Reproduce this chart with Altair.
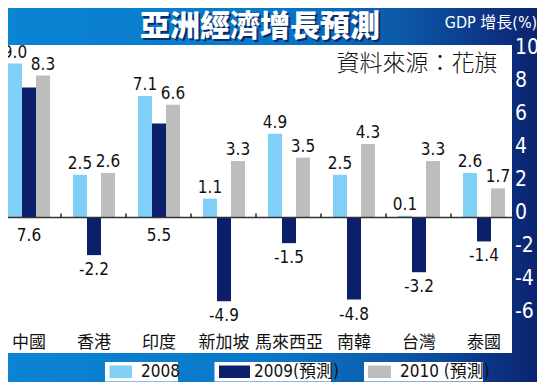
import altair as alt
import pandas as pd

# ---------------- data ----------------
categories = ["中國", "香港", "印度", "新加坡", "馬來西亞", "南韓", "台灣", "泰國"]
series = ["2008", "2009", "2010"]
legend_labels = ["2008", "2009(預測)", "2010 (預測)"]
g2008 = [9.0, 2.5, 7.1, 1.1, 4.9, 2.5, 0.1, 2.6]
g2009 = [7.6, -2.2, 5.5, -4.9, -1.5, -4.8, -3.2, -1.4]
g2010 = [8.3, 2.6, 6.6, 3.3, 3.5, 4.3, 3.3, 1.7]
y_ticks = [-6, -4, -2, 0, 2, 4, 6, 8, 10]
colors = ["#7fcff6", "#0b1f6b", "#bdbdbd"]
title_text = "亞洲經濟增長預測"
unit_text = "GDP 增長(%)"
source_text = "資料來源：花旗"

rows = []
for s, vals in zip(series, [g2008, g2009, g2010]):
    for c, v in zip(categories, vals):
        rows.append({"cat": c, "series": s, "value": v})
df = pd.DataFrame(rows)
cat_df = pd.DataFrame({"cat": categories, "series": ["2009"] * len(categories)})
sep_df = pd.DataFrame({"cat": categories[:-1]})
one = pd.DataFrame({"k": [0]})

NARROW = "Liberation Sans Narrow, DejaVu Sans Condensed, Noto Sans CJK TC, sans-serif"
CJK = "Noto Sans CJK TC, sans-serif"

W, H = 520, 273.6

x_enc = alt.X("cat:N", sort=categories, scale=alt.Scale(paddingInner=0, paddingOuter=0), axis=None)
xo_enc = alt.XOffset(
    "series:N", sort=series,
    scale=alt.Scale(domain=series, paddingInner=0, paddingOuter=0.821, align=0),
)
y_scale = alt.Scale(domain=[-6, 10], nice=False, zero=False)
color_enc = alt.Color("series:N", scale=alt.Scale(domain=series, range=colors), legend=None)
label_expr = "(datum.value < 0 ? '-' : '') + format(abs(datum.value), '.1f')"

# ---------------- background ----------------
bg = alt.Chart(one).mark_rect(
    color=alt.LinearGradient(
        gradient="linear",
        stops=[
            alt.GradientStop(color="#0b84d4", offset=0),
            alt.GradientStop(color="#0a78c8", offset=0.5),
            alt.GradientStop(color="#0d58a8", offset=0.75),
            alt.GradientStop(color="#0c3686", offset=0.9),
            alt.GradientStop(color="#0b2470", offset=1),
        ],
        x1=0, x2=1, y1=0, y2=0,
    )
).encode(x=alt.value(-8), x2=alt.value(530), y=alt.value(-47), y2=alt.value(340))

panel = alt.Chart(one).mark_rect(color="white").encode(
    x=alt.value(0), x2=alt.value(504), y=alt.value(-1.5), y2=alt.value(306.5)
)

title_shadow = alt.Chart(one).mark_text(
    text=title_text, font=CJK, fontSize=30, fontWeight=900, color="#0a2a6a",
    align="center", baseline="middle"
).encode(x=alt.value(254), y=alt.value(-18))
title = alt.Chart(one).mark_text(
    text=title_text, font=CJK, fontSize=30, fontWeight=900, color="white",
    align="center", baseline="middle"
).encode(x=alt.value(252), y=alt.value(-20))

unit = alt.Chart(one).mark_text(
    text=unit_text, font=NARROW, fontSize=16, color="white",
    align="center", baseline="middle"
).encode(x=alt.value(483), y=alt.value(-24))

source = alt.Chart(one).mark_text(
    text=source_text, font=CJK, fontSize=23, fontWeight=300, color="#111",
    align="center", baseline="middle"
).encode(x=alt.value(409), y=alt.value(17))

# ---------------- bars ----------------
bars = alt.Chart(df).mark_bar().encode(
    x=x_enc, xOffset=xo_enc,
    y=alt.Y("value:Q", scale=y_scale, axis=None),
    color=color_enc,
)

zero_line = alt.Chart(one).mark_rule(color="#333", strokeWidth=1.5).encode(
    y=alt.Y(datum=0, scale=y_scale, axis=None), x=alt.value(-1), x2=alt.value(504)
)

separators = alt.Chart(sep_df).mark_rule(color="#222", strokeWidth=1.5).encode(
    x=alt.X("cat:N", sort=categories, bandPosition=53 / 65,
            scale=alt.Scale(paddingInner=0, paddingOuter=0), axis=None),
    y=alt.Y(datum=0, scale=y_scale, axis=None),
    y2=alt.value(167),
)

lbl_style = dict(font=NARROW, fontSize=17, color="#111", align="center")
top_labels = alt.Chart(df).transform_filter(
    "datum.series != '2009'"
).transform_calculate(lbl=label_expr).mark_text(baseline="bottom", dy=-2, **lbl_style).encode(
    x=x_enc, xOffset=xo_enc,
    y=alt.Y("value:Q", scale=y_scale, axis=None),
    text="lbl:N",
)
pos09_labels = alt.Chart(df).transform_filter(
    "datum.series == '2009' && datum.value > 0"
).transform_calculate(lbl=label_expr).mark_text(baseline="top", dy=10, **lbl_style).encode(
    x=x_enc, xOffset=xo_enc,
    y=alt.Y(datum=0, scale=y_scale, axis=None),
    text="lbl:N",
)
neg09_labels = alt.Chart(df).transform_filter(
    "datum.series == '2009' && datum.value < 0"
).transform_calculate(lbl=label_expr).mark_text(baseline="top", dy=7, **lbl_style).encode(
    x=x_enc, xOffset=xo_enc,
    y=alt.Y("value:Q", scale=y_scale, axis=None),
    text="lbl:N",
)

cat_labels = alt.Chart(cat_df).mark_text(
    font=CJK, fontSize=17, color="#111", align="center", baseline="middle"
).encode(x=x_enc, xOffset=xo_enc, y=alt.value(296.5), text="cat:N")

# ---------------- legend ----------------
legend_layers = []
boxes = [(97, 170, 101.5, 124, 133), (206.5, 323, 211, 242, 246), (356, 475, 360, 383, 392)]
for (bx0, bx1, sx0, sx1, tx), col, lab in zip(boxes, colors, legend_labels):
    legend_layers.append(alt.Chart(one).mark_rect(color="white").encode(
        x=alt.value(bx0), x2=alt.value(bx1), y=alt.value(315.5), y2=alt.value(335)))
    legend_layers.append(alt.Chart(one).mark_rect(color=col).encode(
        x=alt.value(sx0), x2=alt.value(sx1), y=alt.value(319), y2=alt.value(331.5)))
    legend_layers.append(alt.Chart(one).mark_text(
        text=lab, font=NARROW, fontSize=17, color="#111", align="left", baseline="middle"
    ).encode(x=alt.value(tx), y=alt.value(325.5)))

main = alt.layer(
    bg, panel, title_shadow, title, unit, source,
    bars, zero_line, separators, top_labels, pos09_labels, neg09_labels, cat_labels,
    *legend_layers,
)

# ---------------- right-hand value axis ----------------
axis_df = pd.DataFrame({"t": y_ticks})
axis_scale = alt.Scale(domain=[-6, 10], range=[265.5, 1.5], nice=False, zero=False)
axis_ticks = alt.Chart(axis_df).mark_rule(color="#222", strokeWidth=1.5).encode(
    y=alt.Y("t:Q", scale=axis_scale, axis=None), x=alt.value(504), x2=alt.value(507)
)
axis_labels = alt.Chart(axis_df).mark_text(
    font=NARROW, fontSize=21, color="white", align="left", baseline="middle"
).encode(y=alt.Y("t:Q", scale=axis_scale, axis=None), x=alt.value(507), text="t:N")
axis_layer = alt.layer(axis_ticks, axis_labels)

chart = alt.layer(main, axis_layer).resolve_scale(y="independent").properties(
    width=W, height=H,
    autosize=alt.AutoSizeParams(type="none"),
    padding={"left": 0, "top": 38.5, "right": 9, "bottom": 61.9},
).configure_view(stroke=None).configure(background="white")

chart.save("out.html", embed_options={"renderer": "svg", "actions": False})
